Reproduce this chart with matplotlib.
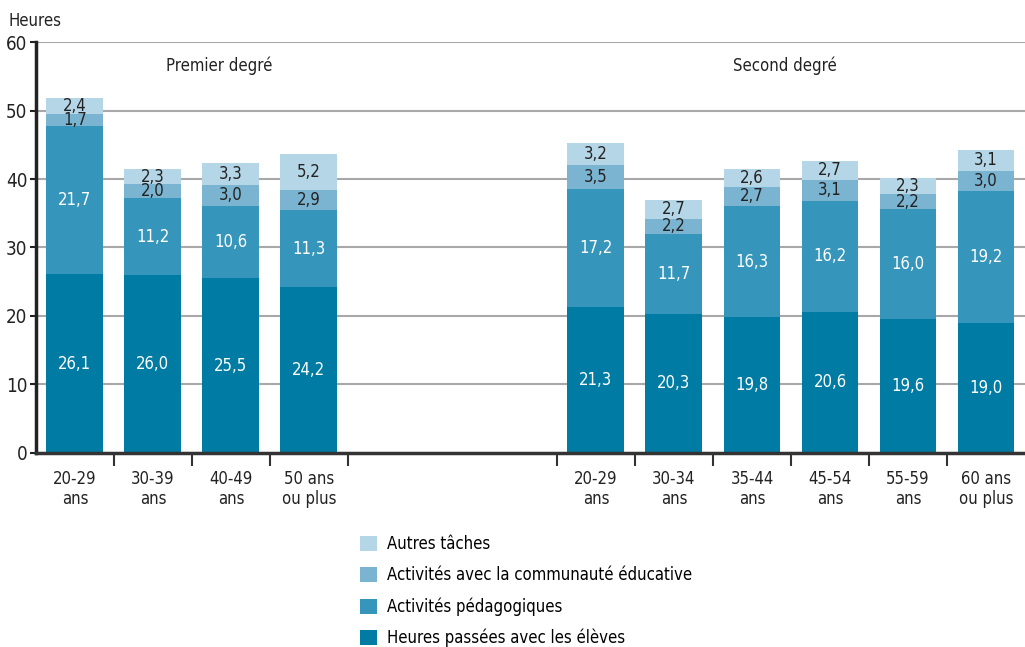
import matplotlib
matplotlib.use("Agg")
import matplotlib.pyplot as plt
from matplotlib.patches import Patch
import numpy as np

plt.rcParams['font.family'] = ['Liberation Sans Narrow', 'DejaVu Sans']
plt.rcParams['font.stretch'] = 'condensed'

categories_premier = ["20-29\nans", "30-39\nans", "40-49\nans", "50 ans\nou plus"]
categories_second = ["20-29\nans", "30-34\nans", "35-44\nans", "45-54\nans", "55-59\nans", "60 ans\nou plus"]

eleves_premier = [26.1, 26.0, 25.5, 24.2]
peda_premier = [21.7, 11.2, 10.6, 11.3]
comm_premier = [1.7, 2.0, 3.0, 2.9]
autres_premier = [2.4, 2.3, 3.3, 5.2]

eleves_second = [21.3, 20.3, 19.8, 20.6, 19.6, 19.0]
peda_second = [17.2, 11.7, 16.3, 16.2, 16.0, 19.2]
comm_second = [3.5, 2.2, 2.7, 3.1, 2.2, 3.0]
autres_second = [3.2, 2.7, 2.6, 2.7, 2.3, 3.1]

series_names = ["Heures passées avec les élèves", "Activités pédagogiques",
                "Activités avec la communauté éducative", "Autres tâches"]
colors = ["#007BA3", "#3595BA", "#7BB4D0", "#B5D6E7"]
label_colors = ["white", "white", "#222222", "#222222"]

FS = 11.5
fig = plt.figure(figsize=(10.25, 6.47), dpi=100)
ax = fig.add_axes([0.035, 0.30, 0.965, 0.635])

x_premier = np.arange(len(categories_premier))
x_second = 6.68 + np.arange(len(categories_second))
width = 0.73

def fmt(v):
    return f"{v:.1f}".replace(".", ",")

for xs, data in [(x_premier, [eleves_premier, peda_premier, comm_premier, autres_premier]),
                 (x_second, [eleves_second, peda_second, comm_second, autres_second])]:
    bottom = np.zeros(len(xs))
    for i, vals in enumerate(data):
        vals = np.array(vals)
        ax.bar(xs, vals, width, bottom=bottom, color=colors[i], zorder=2, linewidth=0)
        for xi, b, v in zip(xs, bottom, vals):
            ax.text(xi, b + v / 2, fmt(v), ha="center", va="center",
                    color=label_colors[i], fontsize=FS + 0.5, zorder=3)
        bottom = bottom + vals

ax.set_xlim(-0.5, x_second[-1] + 0.5)
ax.set_ylim(0, 60)
ax.set_yticks(np.arange(0, 61, 10))
ax.yaxis.grid(True, color="#A8A8A8", linewidth=1.5, zorder=0)
ax.set_axisbelow(True)

for s in ["top", "right"]:
    ax.spines[s].set_visible(False)
ax.spines["left"].set_linewidth(2.5)
ax.spines["bottom"].set_linewidth(2.5)
ax.spines["left"].set_color("#222222")
ax.spines["bottom"].set_color("#333333")

ax.tick_params(axis="y", length=4, width=1.5, labelsize=FS + 2, pad=2, colors="#222222")

ax.set_xticks(list(x_premier) + list(x_second))
ax.set_xticklabels(categories_premier + categories_second, fontsize=FS + 0.5, color="#222222")
ax.tick_params(axis="x", which="major", length=0, pad=12)
boundaries = list(x_premier + 0.5) + list(x_second - 0.5)
ax.set_xticks(boundaries, minor=True)
ax.tick_params(axis="x", which="minor", length=9, width=1.5, color="#333333", direction="out")

fig.text(0.008, 0.968, "Heures", fontsize=FS + 0.5, color="#222222", va="center")
ax.text(1.85, 56.5, "Premier degré", ha="center", va="center", fontsize=FS + 0.5, color="#222222")
ax.text(9.1, 56.5, "Second degré", ha="center", va="center", fontsize=FS + 0.5, color="#222222")

handles = [Patch(facecolor=colors[i], edgecolor="none") for i in [3, 2, 1, 0]]
labels = [series_names[i] for i in [3, 2, 1, 0]]
fig.legend(handles, labels, loc="upper left", bbox_to_anchor=(0.345, 0.183),
           frameon=False, fontsize=FS + 0.5, handlelength=1.0, handleheight=1.0,
           labelspacing=0.78, handletextpad=0.6, borderaxespad=0)

fig.savefig("out.png", dpi=100)
